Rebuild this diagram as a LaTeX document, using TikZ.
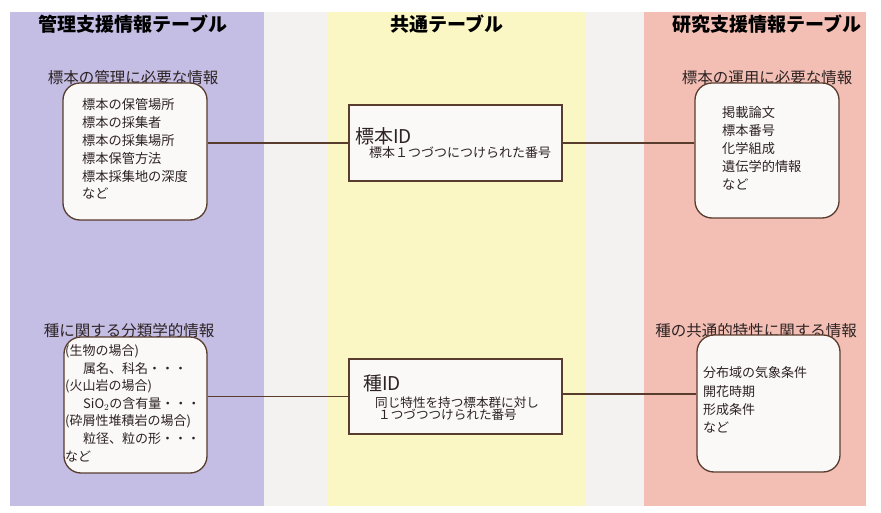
\documentclass[tikz,border=0pt]{standalone}
\usepackage{fontspec}
\setmainfont{Noto Sans CJK JP}
\definecolor{bgpurple}{RGB}{196,189,228}
\definecolor{bgyellow}{RGB}{250,247,196}
\definecolor{bgpink}{RGB}{243,191,181}
\definecolor{bggray}{RGB}{243,242,240}
\definecolor{boxfill}{RGB}{250,249,247}
\definecolor{boxline}{RGB}{88,60,45}
\definecolor{txt}{RGB}{45,35,35}
\tikzset{
  rbox/.style={draw=boxline, fill=boxfill, line width=1.3pt, rounded corners=17pt, inner sep=0pt},
  sbox/.style={draw=boxline, fill=boxfill, line width=1.3pt, inner sep=0pt},
  conn/.style={draw=boxline, line width=1.2pt},
  title/.style={anchor=base, inner sep=0pt, text=black, font=\fontsize{19}{22}\selectfont\bfseries},
  subt/.style={anchor=base, inner sep=0pt, text=txt, font=\fontsize{15.5}{18}\selectfont},
  body/.style={anchor=base west, inner sep=0pt, text=txt, align=left},
}
\newcommand{\bodyfont}[2]{\fontsize{#1}{#2}\selectfont\lineskiplimit=-30pt\lineskip=0pt}
\begin{document}
\begin{tikzpicture}[x=1pt,y=-1pt]
\useasboundingbox (0,0) rectangle (881,513);
\fill[white] (0,0) rectangle (881,513);
\fill[bggray] (10,12) rectangle (866,506);
\fill[bgpurple] (10,12) rectangle (264,506);
\fill[bgyellow] (328,12) rectangle (586,506);
\fill[bgpink] (644,12) rectangle (866,506);

% titles
\node[title] (t1) at (133,32) {管理支援情報テーブル};
\node[title] (t2) at (447,32) {共通テーブル};
\node[title] (t3) at (767,32) {研究支援情報テーブル};

% subtitles
\node[subt] (s1) at (133,84) {標本の管理に必要な情報};
\node[subt] (s2) at (767,84) {標本の運用に必要な情報};
\node[subt] (s3) at (129,336) {種に関する分類学的情報};
\node[subt] (s4) at (756,336) {種の共通的特性に関する情報};

% boxes
\node[rbox, minimum width=144pt, minimum height=137pt] (tl) at (135,151.5) {};
\node[rbox, minimum width=144pt, minimum height=135pt] (tr) at (767,150.5) {};
\node[rbox, minimum width=143pt, minimum height=136pt] (bl) at (135.5,405) {};
\node[rbox, minimum width=143pt, minimum height=137pt] (br) at (768.5,403.5) {};
\node[sbox, minimum width=213pt, minimum height=76pt] (ct) at (455.5,143) {};
\node[sbox, minimum width=213pt, minimum height=75pt] (cb) at (455.5,396.5) {};

% connectors
\draw[conn] (ct.west) -- (ct.west -| tl.east);
\draw[conn] (ct.east) -- (ct.east -| tr.west);
\draw[conn] (cb.west) -- (cb.west -| bl.east);
\draw[conn] ([yshift=2.5pt]cb.east) -- ([yshift=2.5pt]cb.east -| br.west);

% box texts (anchor = baseline of the last line)
\node[body, font=\bodyfont{13.2}{17.8}] (tltext) at (82,199) {標本の保管場所\\標本の採集者\\標本の採集場所\\標本保管方法\\標本採集地の深度\\など};
\node[body, font=\bodyfont{13.2}{18}] (trtext) at (722,190) {掲載論文\\標本番号\\化学組成\\遺伝学的情報\\など};
\node[body, font=\bodyfont{13}{17.6}] (bltext) at (65,461) {(生物の場合)\\\hspace*{18pt}属名、科名・・・\\(火山岩の場合)\\\hspace*{18pt}SiO$_2$の含有量・・・\\(砕屑性堆積岩の場合)\\\hspace*{18pt}粒径、粒の形・・・\\など};
\node[body, font=\bodyfont{13}{18.2}] (brtext) at (703,432.5) {分布域の気象条件\\開花時期\\形成条件\\など};

\node[body, font=\bodyfont{19}{20}] (ctid) at (355,144) {標本ID};
\node[body, font=\bodyfont{13}{15}] (ctdesc) at (369,158) {標本１つづつにつけられた番号};
\node[body, font=\bodyfont{19}{20}] (cbid) at (363,390) {種ID};
\node[body, font=\bodyfont{12.6}{11.8}] (cbdesc) at (375,419) {同じ特性を持つ標本群に対し\\\hspace*{3pt}１つづつつけられた番号};
\end{tikzpicture}
\end{document}
